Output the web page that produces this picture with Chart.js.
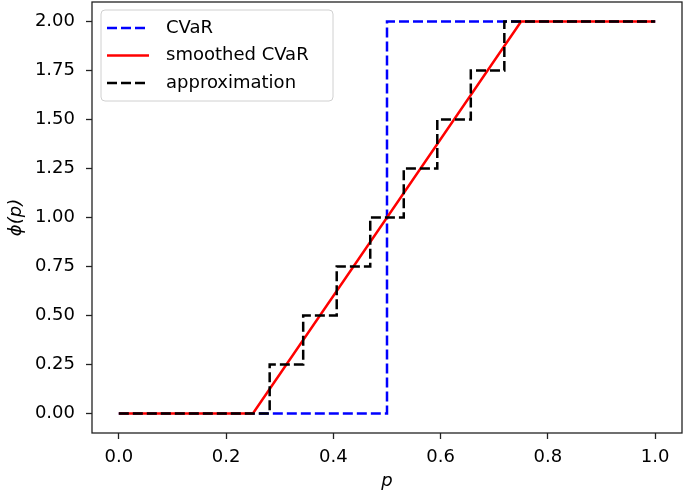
<!DOCTYPE html>
<html>
<head>
<meta charset="utf-8">
<script src="https://cdn.jsdelivr.net/npm/chart.js@4.4.0/dist/chart.umd.min.js"></script>
<style>
  body { margin: 0; background: #fff; }
  #wrap { width: 685px; height: 492px; }
</style>
</head>
<body>
<div id="wrap"><canvas id="c" width="685" height="492"></canvas></div>
<script>
// data
const cvarP = [0, 0.5, 0.5, 1.0];
const cvarV = [0, 0, 2, 2];

const smoothP = [0, 0.25, 0.75, 1.0];
const smoothV = [0, 0, 2, 2];

const approxP = [0, 0.28125, 0.28125, 0.34375, 0.34375, 0.40625, 0.40625, 0.46875, 0.46875,
                 0.53125, 0.53125, 0.59375, 0.59375, 0.65625, 0.65625, 0.71875, 0.71875, 1.0];
const approxV = [0, 0, 0.25, 0.25, 0.5, 0.5, 0.75, 0.75, 1.0,
                 1.0, 1.25, 1.25, 1.5, 1.5, 1.75, 1.75, 2.0, 2.0];

const xTicks = [0.0, 0.2, 0.4, 0.6, 0.8, 1.0];
const yTicks = [0.00, 0.25, 0.50, 0.75, 1.00, 1.25, 1.50, 1.75, 2.00];

function pts(xs, ys) {
  return xs.map((x, i) => ({ x: x, y: ys[i] }));
}

const FONT = "'DejaVu Sans', sans-serif";

function noPad(s) {
  s.paddingTop = 0;
  s.paddingBottom = 0;
  s.paddingLeft = 0;
  s.paddingRight = 0;
}

const frameAndText = {
  id: "frameAndText",
  afterDraw(chart) {
    const ctx = chart.ctx;
    const a = chart.chartArea;
    ctx.save();
    // axes frame
    ctx.strokeStyle = "#222";
    ctx.lineWidth = 1.3;
    ctx.strokeRect(a.left, a.top, a.right - a.left, a.bottom - a.top);

    // axis titles
    ctx.fillStyle = "#000";
    ctx.font = "italic 18px " + FONT;
    ctx.textAlign = "center";
    ctx.textBaseline = "middle";
    ctx.fillText("p", (a.left + a.right) / 2, 481);
    ctx.translate(16, (a.top + a.bottom) / 2);
    ctx.rotate(-Math.PI / 2);
    ctx.fillText("\u03D5(p)", 0, 0);
    ctx.restore();

    // legend
    ctx.save();
    const bx = 101, by = 10, bw = 232, bh = 91, r = 4;
    ctx.beginPath();
    ctx.moveTo(bx + r, by);
    ctx.arcTo(bx + bw, by, bx + bw, by + bh, r);
    ctx.arcTo(bx + bw, by + bh, bx, by + bh, r);
    ctx.arcTo(bx, by + bh, bx, by, r);
    ctx.arcTo(bx, by, bx + bw, by, r);
    ctx.closePath();
    ctx.fillStyle = "rgba(255,255,255,0.8)";
    ctx.fill();
    ctx.strokeStyle = "#d0d0d0";
    ctx.lineWidth = 1;
    ctx.stroke();

    ctx.font = "18px " + FONT;
    ctx.textAlign = "left";
    ctx.textBaseline = "middle";
    chart.data.datasets.forEach((ds, i) => {
      const y = 28 + i * 27.5;
      ctx.beginPath();
      ctx.setLineDash(ds.borderDash || []);
      ctx.strokeStyle = ds.borderColor;
      ctx.lineWidth = ds.borderWidth;
      ctx.moveTo(107, y);
      ctx.lineTo(149, y);
      ctx.stroke();
      ctx.setLineDash([]);
      ctx.fillStyle = "#000";
      ctx.fillText(ds.label, 166, y);
    });
    ctx.restore();
  }
};

new Chart(document.getElementById("c"), {
  type: "line",
  data: {
    datasets: [
      {
        label: "CVaR",
        data: pts(cvarP, cvarV),
        borderColor: "#0000ff",
        borderWidth: 2.5,
        borderDash: [10, 4],
        pointRadius: 0,
        tension: 0,
        order: 3
      },
      {
        label: "smoothed CVaR",
        data: pts(smoothP, smoothV),
        borderColor: "#ff0000",
        borderWidth: 2.5,
        pointRadius: 0,
        tension: 0,
        order: 2
      },
      {
        label: "approximation",
        data: pts(approxP, approxV),
        borderColor: "#000000",
        borderWidth: 2.5,
        borderDash: [10, 4],
        pointRadius: 0,
        tension: 0,
        order: 1
      }
    ]
  },
  options: {
    responsive: false,
    animation: false,
    layout: { padding: { top: 2, right: 3, left: 0, bottom: 0 } },
    plugins: {
      legend: { display: false },
      tooltip: { enabled: false }
    },
    scales: {
      x: {
        type: "linear",
        min: -0.05,
        max: 1.05,
        afterBuildTicks: s => { s.ticks = xTicks.map(v => ({ value: v })); },
        afterFit: s => { s.height = 59; noPad(s); },
        grid: { drawOnChartArea: false, drawTicks: true, tickLength: 6, tickWidth: 1.3, tickColor: "#222", color: "#222" },
        border: { display: false },
        ticks: {
          padding: 8,
          color: "#000",
          font: { family: FONT, size: 18 },
          maxRotation: 0,
          callback: v => v.toFixed(1)
        }
      },
      y: {
        type: "linear",
        min: -0.1,
        max: 2.1,
        afterBuildTicks: s => { s.ticks = yTicks.map(v => ({ value: v })); },
        afterFit: s => { s.width = 92; noPad(s); },
        grid: { drawOnChartArea: false, drawTicks: true, tickLength: 6, tickWidth: 1.3, tickColor: "#222", color: "#222" },
        border: { display: false },
        ticks: {
          padding: 11,
          color: "#000",
          font: { family: FONT, size: 18 },
          callback: v => v.toFixed(2)
        }
      }
    }
  },
  plugins: [frameAndText]
});
</script>
</body>
</html>
